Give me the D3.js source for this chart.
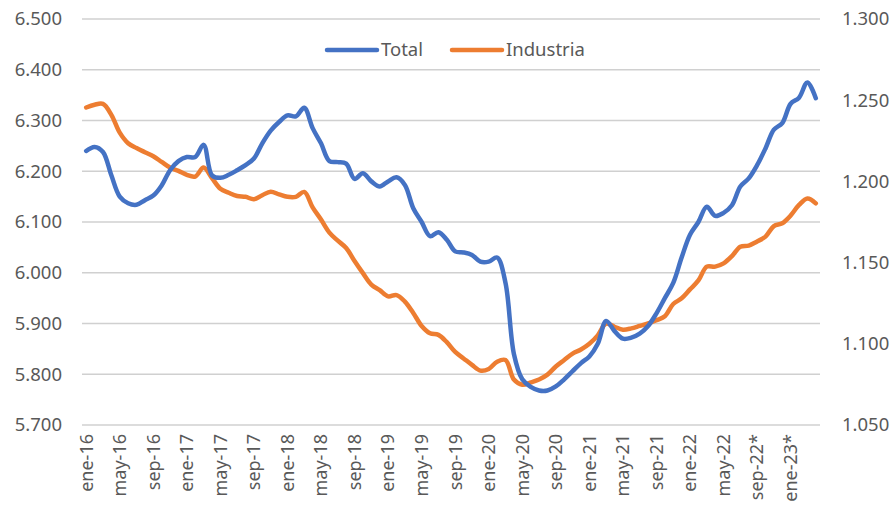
<!DOCTYPE html>
<html>
<head>
<meta charset="utf-8">
<script src="https://cdn.jsdelivr.net/npm/d3@7"></script>
<style>
  body { margin: 0; background: #fff; }
  text { font-family: "Noto Sans", sans-serif; fill: #595959; }
</style>
</head>
<body>
<div id="chart"></div>
<script>
const monthNames = ["ene", "feb", "mar", "abr", "may", "jun", "jul", "ago", "sep", "oct", "nov", "dic"]
const startYear = 16
const nMonths = 88
const provisionalFrom = 80 // sep-22 onward carries "*"

// Total (left axis)
const total = [
  6.240, 6.248, 6.238, 6.192, 6.150, 6.137, 6.134, 6.143, 6.152, 6.172, 6.202, 6.220,
  6.228, 6.228, 6.252, 6.192, 6.187, 6.193, 6.202, 6.212, 6.225, 6.255, 6.280, 6.297,
  6.310, 6.308, 6.325, 6.285, 6.255, 6.220, 6.218, 6.215, 6.185, 6.196, 6.180, 6.170,
  6.180, 6.188, 6.173, 6.127, 6.100, 6.072, 6.080, 6.065, 6.042, 6.040, 6.035, 6.022,
  6.022, 6.030, 5.980, 5.840, 5.790, 5.775, 5.768, 5.768, 5.776, 5.790, 5.806, 5.822,
  5.835, 5.860, 5.905, 5.885, 5.870, 5.872, 5.880, 5.895, 5.920, 5.950, 5.980, 6.030,
  6.075, 6.100, 6.130, 6.112, 6.118, 6.133, 6.170, 6.186, 6.212, 6.245, 6.282, 6.295,
  6.333, 6.345, 6.375, 6.344
]

// Industria (right axis)
const industria = [
  1.2455, 1.2472, 1.2477, 1.2410, 1.2300, 1.2235, 1.2205, 1.2180, 1.2155, 1.2120, 1.2085, 1.2065,
  1.2040, 1.2030, 1.2085, 1.2020, 1.1955, 1.1930, 1.1910, 1.1905, 1.1890, 1.1915, 1.1937, 1.1920,
  1.1905, 1.1905, 1.1935, 1.1840, 1.1765, 1.1685, 1.1635, 1.1590, 1.1510, 1.1435, 1.1365, 1.1330,
  1.1292, 1.1300, 1.1260, 1.1190, 1.1110, 1.1065, 1.1055, 1.1010, 1.0950, 1.0910, 1.0870, 1.0835,
  1.0845, 1.0890, 1.0900, 1.0780, 1.0748, 1.0762, 1.0780, 1.0810, 1.0860, 1.0900, 1.0940, 1.0965,
  1.1000, 1.1052, 1.1125, 1.1105, 1.1087, 1.1095, 1.1110, 1.1125, 1.1145, 1.1170, 1.1245, 1.1280,
  1.1335, 1.1390, 1.1475, 1.1475, 1.1495, 1.1540, 1.1598, 1.1605, 1.1630, 1.1660, 1.1725, 1.1742,
  1.1790, 1.1855, 1.1895, 1.1865
]

const leftTicks = [5.7, 5.8, 5.9, 6.0, 6.1, 6.2, 6.3, 6.4, 6.5]
const rightTicks = [1.05, 1.10, 1.15, 1.20, 1.25, 1.30]
const seriesNames = ["Total", "Industria"]
const seriesColors = ["#4472C4", "#ED7D31"]

const months = d3.range(nMonths).map(i => {
    let label = monthNames[i % 12] + "-" + (startYear + Math.floor(i / 12))
    return i >= provisionalFrom ? label + "*" : label
})

var width = 895
var height = 512
var margin = {top: 19, right: 75, bottom: 87, left: 82}

var svg = d3.select("#chart")
            .append("svg")
            .attr("width", width)
            .attr("height", height)

var x = d3.scaleBand()
          .domain(months)
          .range([margin.left, width - margin.right])

var yLeft = d3.scaleLinear()
              .domain([5.7, 6.5])
              .range([height - margin.bottom, margin.top])

var yRight = d3.scaleLinear()
               .domain([1.05, 1.30])
               .range([height - margin.bottom, margin.top])

var fmt = d3.formatLocale({decimal: ".", thousands: ",", grouping: [3]}).format(".3f")

// gridlines
svg.append("g")
   .selectAll("line")
   .data(leftTicks)
   .enter()
   .append("line")
   .attr("x1", margin.left)
   .attr("x2", width - margin.right)
   .attr("y1", d => yLeft(d))
   .attr("y2", d => yLeft(d))
   .attr("stroke", "#d0d0d0")
   .attr("stroke-width", 1.4)

// left axis
var leftAxis = svg.append("g")
                  .attr("transform", "translate(" + (margin.left - 20) + ",0)")
                  .call(d3.axisLeft(yLeft).tickValues(leftTicks).tickFormat(fmt).tickSize(0).tickPadding(0))
leftAxis.select(".domain").remove()
leftAxis.selectAll("text").style("font-size", "18.5px").attr("fill", "#595959")

// right axis
var rightAxis = svg.append("g")
                   .attr("transform", "translate(" + (width - margin.right + 22) + ",0)")
                   .call(d3.axisRight(yRight).tickValues(rightTicks).tickFormat(fmt).tickSize(0).tickPadding(0))
rightAxis.select(".domain").remove()
rightAxis.selectAll("text").style("font-size", "18.5px").attr("fill", "#595959")

// x axis
var xAxis = svg.append("g")
               .attr("transform", "translate(0," + (height - margin.bottom) + ")")
               .call(d3.axisBottom(x).tickValues(months.filter((d, i) => i % 4 == 0)).tickSize(0))
xAxis.select(".domain").remove()
xAxis.selectAll("text")
     .style("font-size", "18px")
     .attr("fill", "#595959")
     .attr("text-anchor", "end")
     .attr("transform", "rotate(-90)")
     .attr("x", -9)
     .attr("y", 0)
     .attr("dy", "0.35em")

// lines
var lineLeft = d3.line()
                 .x((d, i) => x(months[i]) + x.bandwidth() / 2)
                 .y(d => yLeft(d))
                 .curve(d3.curveCatmullRom.alpha(0.5))

var lineRight = d3.line()
                  .x((d, i) => x(months[i]) + x.bandwidth() / 2)
                  .y(d => yRight(d))
                  .curve(d3.curveCatmullRom.alpha(0.5))

svg.append("path")
   .datum(industria)
   .attr("fill", "none")
   .attr("stroke", seriesColors[1])
   .attr("stroke-width", 4.5)
   .attr("stroke-linejoin", "round")
   .attr("stroke-linecap", "round")
   .attr("d", lineRight)

svg.append("path")
   .datum(total)
   .attr("fill", "none")
   .attr("stroke", seriesColors[0])
   .attr("stroke-width", 4.5)
   .attr("stroke-linejoin", "round")
   .attr("stroke-linecap", "round")
   .attr("d", lineLeft)

// legend
var legendX = [327, 452]
var legend = svg.append("g")
                .selectAll("g")
                .data(seriesNames)
                .enter()
                .append("g")
                .attr("transform", (d, i) => "translate(" + legendX[i] + ",50)")

legend.append("line")
      .attr("x1", 0)
      .attr("x2", 50)
      .attr("stroke", (d, i) => seriesColors[i])
      .attr("stroke-width", 4.5)
      .attr("stroke-linecap", "round")

legend.append("text")
      .attr("x", 54)
      .attr("dy", "0.35em")
      .style("font-size", "18.5px")
      .text(d => d)
</script>
</body>
</html>
